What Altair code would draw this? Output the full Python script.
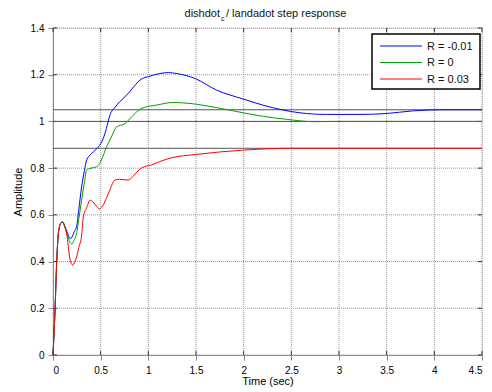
import altair as alt
import pandas as pd

# ---- data ----
series_names = ["R = -0.01", "R = 0", "R = 0.03"]
series_colors = ["#0000ff", "#00a000", "#ff0000"]

t_blue = [0, 0.021, 0.038, 0.056, 0.08, 0.10, 0.125, 0.15, 0.178, 0.20, 0.225, 0.248, 0.27,
          0.30, 0.33, 0.353, 0.40, 0.45, 0.475, 0.527, 0.56, 0.597, 0.65, 0.70, 0.79, 0.85,
          0.912, 1.017, 1.12, 1.21, 1.30, 1.49, 1.716, 1.995, 2.2, 2.41, 2.59, 2.87, 3.22,
          3.50, 3.77, 4.1, 4.5]
y_blue = [0, 0.19, 0.39, 0.52, 0.563, 0.57, 0.55, 0.525, 0.499, 0.505, 0.53, 0.55, 0.62,
          0.72, 0.79, 0.835, 0.86, 0.88, 0.89, 0.927, 0.97, 1.027, 1.06, 1.084, 1.12, 1.15,
          1.177, 1.194, 1.205, 1.209, 1.205, 1.184, 1.134, 1.096, 1.07, 1.049, 1.037, 1.030,
          1.030, 1.034, 1.045, 1.05, 1.05]

t_green = [0, 0.021, 0.038, 0.056, 0.08, 0.10, 0.125, 0.15, 0.175, 0.196, 0.22, 0.248, 0.27,
           0.30, 0.33, 0.353, 0.40, 0.458, 0.49, 0.563, 0.62, 0.667, 0.755, 0.825, 0.93,
           1.087, 1.26, 1.436, 1.716, 1.995, 2.2, 2.45, 2.73, 3.0, 4.5]
y_green = [0, 0.19, 0.39, 0.52, 0.563, 0.57, 0.545, 0.515, 0.485, 0.475, 0.49, 0.522, 0.58,
           0.663, 0.74, 0.792, 0.80, 0.806, 0.82, 0.892, 0.94, 0.977, 0.99, 1.02, 1.056,
           1.07, 1.081, 1.077, 1.059, 1.037, 1.022, 1.009, 0.999, 1.0, 1.0]

t_red = [0, 0.021, 0.038, 0.056, 0.08, 0.10, 0.12, 0.143, 0.178, 0.206, 0.23, 0.248, 0.27,
         0.30, 0.318, 0.353, 0.388, 0.42, 0.46, 0.49, 0.53, 0.58, 0.65, 0.70, 0.79, 0.85,
         0.91, 0.98, 1.02, 1.1, 1.23, 1.51, 1.99, 2.27, 2.5, 4.5]
y_red = [0, 0.19, 0.39, 0.52, 0.563, 0.57, 0.555, 0.52, 0.41, 0.385, 0.40, 0.42, 0.46,
         0.51, 0.592, 0.63, 0.663, 0.655, 0.635, 0.625, 0.645, 0.69, 0.749, 0.752, 0.749,
         0.77, 0.795, 0.809, 0.812, 0.825, 0.843, 0.859, 0.877, 0.883, 0.885, 0.885]

steady_state = [1.05, 1.0, 0.885]

x_ticks = [0, 0.5, 1, 1.5, 2, 2.5, 3, 3.5, 4, 4.5]
y_ticks = [0, 0.2, 0.4, 0.6, 0.8, 1.0, 1.2, 1.4]

FONT = "Liberation Sans"
W, H = 429, 327

rows = []
for name, ts, ys in zip(series_names, [t_blue, t_green, t_red], [y_blue, y_green, y_red]):
    for t, y in zip(ts, ys):
        rows.append({"series": name, "t": t, "y": y})
df = pd.DataFrame(rows)

x_scale = alt.Scale(domain=[0, 4.5], nice=False, zero=False)
y_scale = alt.Scale(domain=[0, 1.4], nice=False)

x_enc = alt.X("t:Q", scale=x_scale,
              axis=alt.Axis(values=x_ticks, format="~g", title="Time (sec)", grid=False,
                            titleX=214.5, titleY=29, titleBaseline="alphabetic",
                            titleFontWeight="normal", labelPadding=5))
y_enc = alt.Y("y:Q", scale=y_scale,
              axis=alt.Axis(values=y_ticks, format="~g", title="Amplitude", grid=False,
                            titleX=-35, titleY=163.5, titleAngle=-90,
                            titleBaseline="middle", titleAlign="center",
                            titleFontWeight="normal", labelPadding=4))

xt_df = pd.DataFrame({"t": x_ticks})
yt_df = pd.DataFrame({"y": y_ticks})

grid_color = "#999"
x_grid = alt.Chart(xt_df).mark_rule(color=grid_color, strokeWidth=1, strokeDash=[1, 1]).encode(
    x=alt.X("t:Q", scale=x_scale), y=alt.value(0), y2=alt.value(H))
y_grid = alt.Chart(yt_df).mark_rule(color=grid_color, strokeWidth=1, strokeDash=[1, 1]).encode(
    y=alt.Y("y:Q", scale=y_scale), x=alt.value(0), x2=alt.value(W))

tick_color = "#333"
tick_len = 4
ticks_layers = [
    alt.Chart(xt_df).mark_rule(color=tick_color, strokeWidth=1).encode(
        x=alt.X("t:Q", scale=x_scale), y=alt.value(H), y2=alt.value(H - tick_len)),
    alt.Chart(xt_df).mark_rule(color=tick_color, strokeWidth=1).encode(
        x=alt.X("t:Q", scale=x_scale), y=alt.value(0), y2=alt.value(tick_len)),
    alt.Chart(yt_df).mark_rule(color=tick_color, strokeWidth=1).encode(
        y=alt.Y("y:Q", scale=y_scale), x=alt.value(0), x2=alt.value(tick_len)),
    alt.Chart(yt_df).mark_rule(color=tick_color, strokeWidth=1).encode(
        y=alt.Y("y:Q", scale=y_scale), x=alt.value(W), x2=alt.value(W - tick_len)),
]

ss_df = pd.DataFrame({"y": steady_state})
ss = alt.Chart(ss_df).mark_rule(color="#555", strokeWidth=1).encode(
    y=alt.Y("y:Q", scale=y_scale)
)

lines = alt.Chart(df).mark_line(strokeWidth=1, interpolate="monotone").encode(
    x=x_enc, y=y_enc,
    color=alt.Color("series:N", scale=alt.Scale(domain=series_names, range=series_colors),
                    legend=None),
)

one = pd.DataFrame({"a": [0]})

# manual MATLAB-style legend box
legend_layers = [
    alt.Chart(one).mark_rect(fill="white", stroke="black", strokeWidth=1.5).encode(
        x=alt.value(319), x2=alt.value(427), y=alt.value(6), y2=alt.value(61))
]
for i, (name, col) in enumerate(zip(series_names, series_colors)):
    yy = 18 + i * 16.5
    legend_layers.append(
        alt.Chart(one).mark_rule(color=col, strokeWidth=1.2).encode(
            x=alt.value(327), x2=alt.value(369), y=alt.value(yy))
    )
    legend_layers.append(
        alt.Chart(one).mark_text(align="left", baseline="middle", font=FONT, fontSize=11,
                                 color="#111").encode(
            x=alt.value(374), y=alt.value(yy + 0.5), text=alt.value(name))
    )

# title with subscript
title_layers = [
    alt.Chart(one).mark_text(align="right", baseline="alphabetic", font=FONT, fontSize=11,
                             color="#111").encode(
        x=alt.value(167), y=alt.value(-11), text=alt.value("dishdot")),
    alt.Chart(one).mark_text(align="left", baseline="alphabetic", font=FONT, fontSize=7,
                             color="#111").encode(
        x=alt.value(168), y=alt.value(-7.5), text=alt.value("c")),
    alt.Chart(one).mark_text(align="left", baseline="alphabetic", font=FONT, fontSize=11,
                             color="#111").encode(
        x=alt.value(173), y=alt.value(-11), text=alt.value("/ landadot step response")),
]

chart = alt.layer(x_grid, y_grid, *ticks_layers, ss, lines, *legend_layers,
                  *title_layers).properties(
    width=W, height=H,
    autosize=alt.AutoSizeParams(type="none"),
    padding={"left": 45, "top": 20, "right": 2, "bottom": 35},
).configure_view(
    stroke="#333", strokeWidth=1
).configure_axis(
    labelFont=FONT, labelFontSize=11, labelColor="#555",
    titleFont=FONT, titleFontSize=11, titleColor="#111", titleFontWeight="normal",
    domainColor="#333", domainWidth=1,
    ticks=False, tickSize=0,
).configure(background="white")

chart.save("out.html", embed_options={"renderer": "svg", "actions": False})
